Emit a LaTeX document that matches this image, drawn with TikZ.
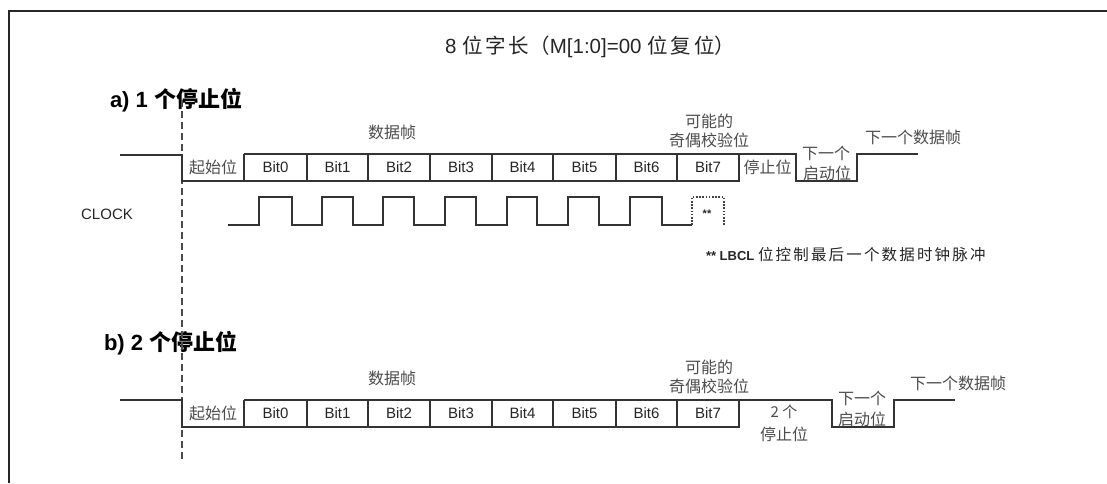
\documentclass[tikz,border=0pt]{standalone}
\usepackage{fontspec}
\setmainfont{Liberation Sans}
\newfontfamily\cjk{Noto Sans CJK SC}
\newfontfamily\cjksp{Noto Sans CJK SC}[LetterSpace=14]
\begin{document}
\begin{tikzpicture}[x=1pt,y=-1pt,
  every node/.style={inner sep=0pt,outer sep=0pt,text=black!85},
  wave/.style={line width=1.3pt,draw=black!80,line join=miter},
  frameline/.style={line width=2pt,draw=black!85},
  bitlbl/.style={font=\fontsize{15}{15}\selectfont},
  cjklbl/.style={font=\cjk\fontsize{16}{16}\selectfont,text=black!70},
  headlbl/.style={font=\fontsize{22}{22}\selectfont\bfseries,text=black,anchor=west},
  clk/.style={line width=1.3pt,draw=black!80},
  clkdot/.style={line width=1.6pt,draw=black!75,dash pattern=on 1.6pt off 1.6pt},
  sep/.style={line width=1.3pt,draw=black!70,dash pattern=on 7pt off 4pt}]
\useasboundingbox (0,0) rectangle (1107,483);
\fill[white] (0,0) rectangle (1107,483);
% frame (top and left edges)
\draw[frameline] (9,11) -- (1107,11);
\draw[frameline] (9,10) -- (9,483);

% title and headings
\node (title) at (590,47) {\fontsize{20.5}{20.5}\selectfont 8 {\cjksp 位字长}{\cjk （}M[1:0]=00 {\cjksp 位复位}{\cjk ）}};
\node[headlbl] (heada) at (110,100) {a) 1 {\cjk\bfseries 个停止位}};
\node[headlbl] (headb) at (104,343) {b) 2 {\cjk\bfseries 个停止位}};

% separating dashed line
\coordinate (septop) at (182,100);
\coordinate (sepbot) at (182,460);
\draw[sep] (septop) -- (sepbot);

% ---------- a) waveform ----------
\draw[wave] (120,155) -- (182,155) -- (182,181) -- (739,181) -- (739,154) -- (796,154) -- (796,181) -- (857,181) -- (857,154) -- (918,154);
\draw[wave] (244,154) -- (739,154);
\foreach \x in {244,307,368,430,492,553,616,677}
  \draw[wave] (\x,154) -- (\x,181);
\node[cjklbl] (starta) at (213,167) {起始位};
\foreach \n/\x in {0/275.5,1/337.5,2/399,3/461,4/522.5,5/584.5,6/646.5,7/708}
  \node[bitlbl] (a\n) at (\x,167) {Bit\n};
\node[cjklbl] (stopa) at (767.5,167) {停止位};
\node[cjklbl] (nexta1) at (826,153) {下一个};
\node[cjklbl] (nexta2) at (827,173) {启动位};
\node[cjklbl] (framea) at (392,132) {数据帧};
\node[cjklbl] (paritya1) at (709,121) {可能的};
\node[cjklbl] (paritya2) at (709,140) {奇偶校验位};
\node[cjklbl] (nextframea) at (913,137) {下一个数据帧};

% clock
\node[font=\fontsize{15}{15}\selectfont] (clock) at (107,214) {CLOCK};
\draw[clk] (228,225)
  \foreach \r/\f in {259/292,322/353,383/414,445/476,507/537,568/599,630/662}
  { -- (\r,225) -- (\r,197) -- (\f,197) -- (\f,225) } -- (692,225);
\draw[clkdot] (692,225) -- (692,197) -- (724,197) -- (724,225);
\node[font=\fontsize{11}{11}\selectfont\bfseries] (star) at (707,214) {**};
\node[anchor=west,font=\fontsize{13}{13}\selectfont\bfseries] (note) at (706,255) {** LBCL {\cjksp\mdseries\fontsize{15.5}{15.5}\selectfont 位控制最后一个数据时钟脉冲}};

% ---------- b) waveform ----------
\draw[wave] (120,400) -- (182,400) -- (182,427) -- (739,427) -- (739,400) -- (832,400) -- (832,427) -- (894,427) -- (894,400) -- (955,400);
\draw[wave] (244,400) -- (739,400);
\foreach \x in {244,307,368,430,492,553,616,677}
  \draw[wave] (\x,400) -- (\x,427);
\node[cjklbl] (startb) at (213,413) {起始位};
\foreach \n/\x in {0/275.5,1/337.5,2/399,3/461,4/522.5,5/584.5,6/646.5,7/708}
  \node[bitlbl] (b\n) at (\x,413) {Bit\n};
\node[cjklbl] (stopb1) at (784,412) {\fontsize{15}{15}\selectfont 2 {\cjk 个}};
\node[cjklbl] (stopb2) at (784,434) {停止位};
\node[cjklbl] (nextb1) at (862,398) {下一个};
\node[cjklbl] (nextb2) at (862,419) {启动位};
\node[cjklbl] (frameb) at (392,378) {数据帧};
\node[cjklbl] (parityb1) at (709,367) {可能的};
\node[cjklbl] (parityb2) at (709,386) {奇偶校验位};
\node[cjklbl] (nextframeb) at (958,383) {下一个数据帧};
\end{tikzpicture}
\end{document}
